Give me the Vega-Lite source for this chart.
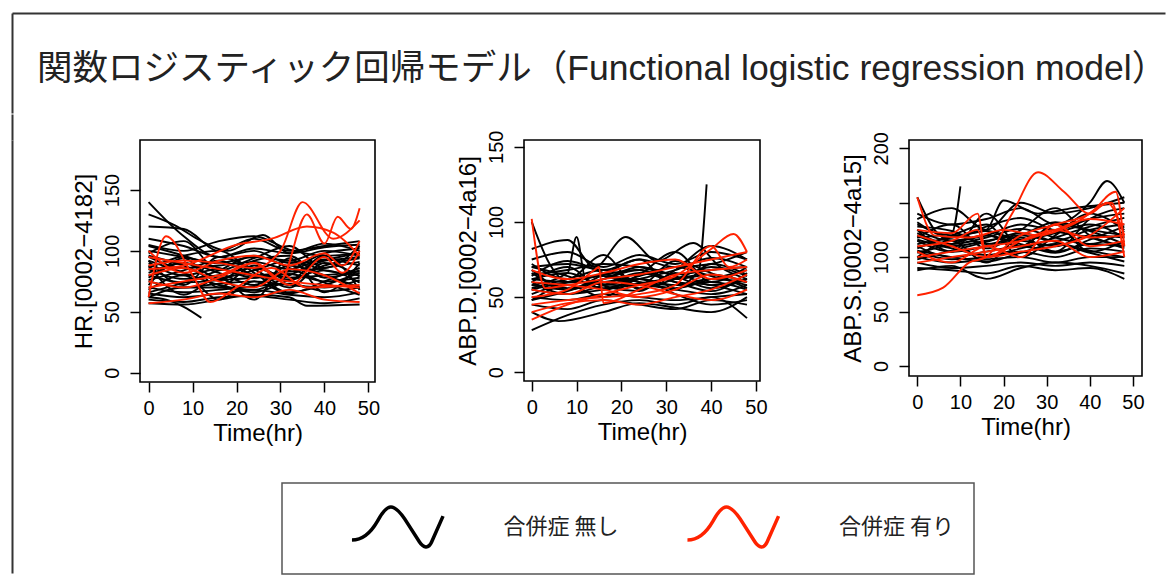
{
"$schema":"https://vega.github.io/schema/vega-lite/v6.json",
"padding":{"left":11,"top":13,"right":0,"bottom":0},
"background":"white",
"config":{
"font":"Liberation Sans",
"view":{"stroke":"#000","strokeWidth":1.6},
"axis":{"domain":false,"grid":false,"tickColor":"#000","tickWidth":1.5,"tickSize":10,"labelColor":"#000","labelFont":"Liberation Sans","labelFontSize":20,"labelFlush":false,"labelOverlap":false,"titleFont":"Liberation Sans","titleFontSize":24,"titleFontWeight":"normal","titleColor":"#000"},
"axisX":{"labelPadding":6,"titlePadding":3},
"axisY":{"labelAngle":-90,"labelAlign":"center","labelBaseline":"bottom","labelPadding":8,"titlePadding":6},
"line":{"interpolate":"monotone"},
"legend":{"orient":"none","legendX":270,"legendY":470,"direction":"horizontal","symbolType":"M-2.07,0.59C-1.64,0.59 -1.27,0.36 -0.91,-0.27C-0.64,-0.77 -0.45,-0.91 -0.3,-0.91C-0.09,-0.91 0.14,-0.68 0.45,-0.18L1,0.68C1.18,0.95 1.41,1 1.55,0.68L2.07,-0.5","symbolSize":1936,"symbolStrokeWidth":3.5,"symbolOffset":71.5,"symbolFillColor":"transparent","labelFont":"Noto Sans CJK JP","labelFontSize":22,"labelColor":"#222","labelOffset":82,"labelLimit":0,"columnPadding":18.5,"padding":20,"strokeColor":"#555","strokeWidth":1.5}
},
"datasets":{
"hN":[
{"c":1,"t":0,"v":140},{"c":1,"t":8,"v":112},{"c":1,"t":16,"v":95},{"c":1,"t":24,"v":100},{"c":1,"t":32,"v":90},{"c":1,"t":40,"v":92},{"c":1,"t":48,"v":95},
{"c":2,"t":0,"v":130},{"c":2,"t":6,"v":121},{"c":2,"t":12,"v":108},{"c":2,"t":18,"v":100},{"c":2,"t":26,"v":113},{"c":2,"t":32,"v":98},{"c":2,"t":40,"v":103},{"c":2,"t":48,"v":105},
{"c":3,"t":0,"v":120},{"c":3,"t":8,"v":118},{"c":3,"t":16,"v":100},{"c":3,"t":24,"v":110},{"c":3,"t":32,"v":100},{"c":3,"t":40,"v":104},{"c":3,"t":48,"v":108},
{"c":4,"t":0,"v":110},{"c":4,"t":8,"v":104},{"c":4,"t":16,"v":95},{"c":4,"t":24,"v":102},{"c":4,"t":32,"v":98},{"c":4,"t":40,"v":106},{"c":4,"t":48,"v":100},
{"c":5,"t":0,"v":100},{"c":5,"t":8,"v":95},{"c":5,"t":16,"v":90},{"c":5,"t":24,"v":95},{"c":5,"t":32,"v":92},{"c":5,"t":40,"v":100},{"c":5,"t":48,"v":96},
{"c":6,"t":0,"v":95},{"c":6,"t":8,"v":86},{"c":6,"t":16,"v":88},{"c":6,"t":24,"v":91},{"c":6,"t":32,"v":85},{"c":6,"t":40,"v":93},{"c":6,"t":48,"v":88},
{"c":7,"t":0,"v":90},{"c":7,"t":8,"v":80},{"c":7,"t":16,"v":85},{"c":7,"t":24,"v":80},{"c":7,"t":32,"v":83},{"c":7,"t":40,"v":86},{"c":7,"t":48,"v":91},
{"c":8,"t":0,"v":85},{"c":8,"t":8,"v":77},{"c":8,"t":16,"v":80},{"c":8,"t":24,"v":86},{"c":8,"t":32,"v":78},{"c":8,"t":40,"v":80},{"c":8,"t":48,"v":83},
{"c":9,"t":0,"v":80},{"c":9,"t":8,"v":74},{"c":9,"t":16,"v":76},{"c":9,"t":24,"v":78},{"c":9,"t":32,"v":81},{"c":9,"t":40,"v":75},{"c":9,"t":48,"v":78},
{"c":10,"t":0,"v":75},{"c":10,"t":8,"v":70},{"c":10,"t":16,"v":73},{"c":10,"t":24,"v":75},{"c":10,"t":32,"v":72},{"c":10,"t":40,"v":70},{"c":10,"t":48,"v":76},
{"c":11,"t":0,"v":70},{"c":11,"t":8,"v":66},{"c":11,"t":16,"v":68},{"c":11,"t":24,"v":71},{"c":11,"t":32,"v":73},{"c":11,"t":40,"v":67},{"c":11,"t":48,"v":70},
{"c":12,"t":0,"v":65},{"c":12,"t":8,"v":62},{"c":12,"t":16,"v":65},{"c":12,"t":24,"v":68},{"c":12,"t":32,"v":64},{"c":12,"t":40,"v":62},{"c":12,"t":48,"v":66},
{"c":13,"t":0,"v":60},{"c":13,"t":8,"v":58},{"c":13,"t":16,"v":62},{"c":13,"t":24,"v":63},{"c":13,"t":32,"v":60},{"c":13,"t":40,"v":57},{"c":13,"t":48,"v":61},
{"c":14,"t":0,"v":57},{"c":14,"t":8,"v":56},{"c":14,"t":16,"v":60},{"c":14,"t":24,"v":64},{"c":14,"t":32,"v":62},{"c":14,"t":36,"v":55},{"c":14,"t":48,"v":56},
{"c":15,"t":0,"v":105},{"c":15,"t":8,"v":100},{"c":15,"t":16,"v":108},{"c":15,"t":24,"v":112},{"c":15,"t":32,"v":101},{"c":15,"t":40,"v":96},{"c":15,"t":48,"v":98},
{"c":16,"t":0,"v":78},{"c":16,"t":8,"v":90},{"c":16,"t":16,"v":82},{"c":16,"t":24,"v":72},{"c":16,"t":32,"v":88},{"c":16,"t":40,"v":80},{"c":16,"t":48,"v":70},
{"c":17,"t":0,"v":68},{"c":17,"t":8,"v":80},{"c":17,"t":16,"v":60},{"c":17,"t":24,"v":75},{"c":17,"t":32,"v":65},{"c":17,"t":40,"v":75},{"c":17,"t":48,"v":86},
{"c":18,"t":0,"v":92},{"c":18,"t":8,"v":72},{"c":18,"t":16,"v":95},{"c":18,"t":24,"v":85},{"c":18,"t":32,"v":70},{"c":18,"t":40,"v":90},{"c":18,"t":48,"v":79},
{"c":19,"t":0,"v":62},{"c":19,"t":4,"v":60},{"c":19,"t":8,"v":54},{"c":19,"t":12,"v":45},
{"c":20,"t":0,"v":98},{"c":20,"t":8,"v":108},{"c":20,"t":16,"v":84},{"c":20,"t":24,"v":94},{"c":20,"t":32,"v":104},{"c":20,"t":40,"v":86},{"c":20,"t":48,"v":104},
{"c":21,"t":0,"v":72},{"c":21,"t":8,"v":94},{"c":21,"t":16,"v":70},{"c":21,"t":24,"v":88},{"c":21,"t":32,"v":76},{"c":21,"t":40,"v":96},{"c":21,"t":48,"v":68},
{"c":22,"t":0,"v":88},{"c":22,"t":8,"v":64},{"c":22,"t":16,"v":78},{"c":22,"t":24,"v":60},{"c":22,"t":32,"v":94},{"c":22,"t":40,"v":66},{"c":22,"t":48,"v":90},
{"c":23,"t":0,"v":82},{"c":23,"t":8,"v":90},{"c":23,"t":16,"v":78},{"c":23,"t":24,"v":84},{"c":23,"t":32,"v":92},{"c":23,"t":40,"v":84},{"c":23,"t":48,"v":80},
{"c":24,"t":0,"v":76},{"c":24,"t":8,"v":84},{"c":24,"t":16,"v":92},{"c":24,"t":24,"v":80},{"c":24,"t":32,"v":76},{"c":24,"t":40,"v":88},{"c":24,"t":48,"v":94},
{"c":25,"t":0,"v":96},{"c":25,"t":8,"v":88},{"c":25,"t":16,"v":76},{"c":25,"t":24,"v":92},{"c":25,"t":32,"v":96},{"c":25,"t":40,"v":78},{"c":25,"t":48,"v":84},
{"c":26,"t":0,"v":66},{"c":26,"t":8,"v":74},{"c":26,"t":16,"v":84},{"c":26,"t":24,"v":96},{"c":26,"t":32,"v":86},{"c":26,"t":40,"v":74},{"c":26,"t":48,"v":64},
{"c":27,"t":0,"v":86},{"c":27,"t":8,"v":96},{"c":27,"t":16,"v":100},{"c":27,"t":24,"v":82},{"c":27,"t":32,"v":66},{"c":27,"t":40,"v":72},{"c":27,"t":48,"v":82},
{"c":28,"t":0,"v":104},{"c":28,"t":8,"v":96},{"c":28,"t":16,"v":86},{"c":28,"t":24,"v":78},{"c":28,"t":32,"v":84},{"c":28,"t":40,"v":98},{"c":28,"t":48,"v":102},
{"c":29,"t":0,"v":62},{"c":29,"t":8,"v":70},{"c":29,"t":16,"v":70},{"c":29,"t":24,"v":66},{"c":29,"t":32,"v":76},{"c":29,"t":40,"v":84},{"c":29,"t":48,"v":74},
{"c":30,"t":0,"v":92},{"c":30,"t":8,"v":82},{"c":30,"t":16,"v":72},{"c":30,"t":24,"v":68},{"c":30,"t":32,"v":80},{"c":30,"t":40,"v":92},{"c":30,"t":48,"v":98}
],
"hY":[
{"c":1,"t":0,"v":62},{"c":1,"t":4,"v":112},{"c":1,"t":10,"v":80},{"c":1,"t":14,"v":58},{"c":1,"t":20,"v":70},{"c":1,"t":28,"v":86},{"c":1,"t":36,"v":70},{"c":1,"t":48,"v":72},
{"c":2,"t":0,"v":88},{"c":2,"t":8,"v":92},{"c":2,"t":16,"v":90},{"c":2,"t":24,"v":86},{"c":2,"t":30,"v":100},{"c":2,"t":35,"v":140},{"c":2,"t":42,"v":110},{"c":2,"t":48,"v":125},
{"c":3,"t":0,"v":85},{"c":3,"t":8,"v":88},{"c":3,"t":20,"v":105},{"c":3,"t":28,"v":110},{"c":3,"t":36,"v":120},{"c":3,"t":42,"v":115},{"c":3,"t":48,"v":96},
{"c":4,"t":0,"v":70},{"c":4,"t":8,"v":75},{"c":4,"t":16,"v":80},{"c":4,"t":24,"v":90},{"c":4,"t":30,"v":76},{"c":4,"t":36,"v":130},{"c":4,"t":40,"v":106},{"c":4,"t":43,"v":128},{"c":4,"t":46,"v":118},{"c":4,"t":48,"v":135},
{"c":5,"t":0,"v":95},{"c":5,"t":8,"v":90},{"c":5,"t":16,"v":85},{"c":5,"t":24,"v":80},{"c":5,"t":32,"v":75},{"c":5,"t":40,"v":72},{"c":5,"t":48,"v":70},
{"c":6,"t":0,"v":57},{"c":6,"t":8,"v":60},{"c":6,"t":16,"v":65},{"c":6,"t":24,"v":62},{"c":6,"t":32,"v":68},{"c":6,"t":40,"v":60},{"c":6,"t":48,"v":58},
{"c":7,"t":0,"v":75},{"c":7,"t":8,"v":70},{"c":7,"t":16,"v":78},{"c":7,"t":24,"v":90},{"c":7,"t":32,"v":72},{"c":7,"t":40,"v":95},{"c":7,"t":44,"v":82},{"c":7,"t":48,"v":100},
{"c":8,"t":0,"v":80},{"c":8,"t":8,"v":86},{"c":8,"t":16,"v":75},{"c":8,"t":24,"v":70},{"c":8,"t":32,"v":85},{"c":8,"t":40,"v":80},{"c":8,"t":48,"v":65},
{"c":9,"t":0,"v":100},{"c":9,"t":8,"v":82},{"c":9,"t":16,"v":92},{"c":9,"t":24,"v":96},{"c":9,"t":32,"v":88},{"c":9,"t":40,"v":98},{"c":9,"t":44,"v":88},{"c":9,"t":48,"v":108}
],
"dN":[
{"c":1,"t":0,"v":100},{"c":1,"t":4,"v":72},{"c":1,"t":8,"v":60},{"c":1,"t":16,"v":65},{"c":1,"t":24,"v":60},{"c":1,"t":32,"v":58},{"c":1,"t":40,"v":62},{"c":1,"t":48,"v":60},
{"c":2,"t":0,"v":82},{"c":2,"t":8,"v":88},{"c":2,"t":14,"v":70},{"c":2,"t":21,"v":90},{"c":2,"t":28,"v":74},{"c":2,"t":36,"v":86},{"c":2,"t":42,"v":70},{"c":2,"t":48,"v":62},
{"c":3,"t":0,"v":75},{"c":3,"t":8,"v":80},{"c":3,"t":16,"v":70},{"c":3,"t":24,"v":78},{"c":3,"t":32,"v":72},{"c":3,"t":40,"v":80},{"c":3,"t":48,"v":75},
{"c":4,"t":0,"v":70},{"c":4,"t":8,"v":72},{"c":4,"t":16,"v":68},{"c":4,"t":24,"v":75},{"c":4,"t":32,"v":70},{"c":4,"t":40,"v":72},{"c":4,"t":48,"v":80},
{"c":5,"t":0,"v":65},{"c":5,"t":8,"v":68},{"c":5,"t":16,"v":72},{"c":5,"t":24,"v":70},{"c":5,"t":32,"v":65},{"c":5,"t":40,"v":68},{"c":5,"t":48,"v":70},
{"c":6,"t":0,"v":62},{"c":6,"t":8,"v":60},{"c":6,"t":16,"v":65},{"c":6,"t":24,"v":68},{"c":6,"t":32,"v":62},{"c":6,"t":40,"v":65},{"c":6,"t":48,"v":60},
{"c":7,"t":0,"v":58},{"c":7,"t":8,"v":55},{"c":7,"t":16,"v":60},{"c":7,"t":24,"v":62},{"c":7,"t":32,"v":58},{"c":7,"t":40,"v":60},{"c":7,"t":48,"v":55},
{"c":8,"t":0,"v":55},{"c":8,"t":8,"v":52},{"c":8,"t":16,"v":55},{"c":8,"t":24,"v":58},{"c":8,"t":32,"v":55},{"c":8,"t":40,"v":52},{"c":8,"t":48,"v":58},
{"c":9,"t":0,"v":50},{"c":9,"t":8,"v":48},{"c":9,"t":16,"v":52},{"c":9,"t":24,"v":50},{"c":9,"t":32,"v":48},{"c":9,"t":40,"v":50},{"c":9,"t":48,"v":52},
{"c":10,"t":0,"v":45},{"c":10,"t":8,"v":42},{"c":10,"t":16,"v":48},{"c":10,"t":24,"v":45},{"c":10,"t":32,"v":42},{"c":10,"t":40,"v":48},{"c":10,"t":48,"v":45},
{"c":11,"t":0,"v":40},{"c":11,"t":6,"v":34},{"c":11,"t":16,"v":40},{"c":11,"t":24,"v":46},{"c":11,"t":32,"v":43},{"c":11,"t":40,"v":40},{"c":11,"t":48,"v":50},
{"c":12,"t":0,"v":28},{"c":12,"t":8,"v":38},{"c":12,"t":16,"v":45},{"c":12,"t":24,"v":48},{"c":12,"t":32,"v":45},{"c":12,"t":40,"v":50},{"c":12,"t":48,"v":36},
{"c":13,"t":0,"v":60},{"c":13,"t":8,"v":70},{"c":13,"t":16,"v":55},{"c":13,"t":24,"v":65},{"c":13,"t":32,"v":80},{"c":13,"t":40,"v":60},{"c":13,"t":48,"v":70},
{"c":14,"t":0,"v":72},{"c":14,"t":8,"v":62},{"c":14,"t":16,"v":78},{"c":14,"t":24,"v":55},{"c":14,"t":32,"v":68},{"c":14,"t":40,"v":84},{"c":14,"t":48,"v":75},
{"c":15,"t":0,"v":55},{"c":15,"t":10,"v":60},{"c":15,"t":20,"v":58},{"c":15,"t":30,"v":62},{"c":15,"t":37,"v":65},{"c":15,"t":39,"v":125},
{"c":16,"t":0,"v":68},{"c":16,"t":8,"v":55},{"c":16,"t":16,"v":65},{"c":16,"t":24,"v":75},{"c":16,"t":32,"v":55},{"c":16,"t":40,"v":72},{"c":16,"t":48,"v":65},
{"c":17,"t":0,"v":48},{"c":17,"t":8,"v":58},{"c":17,"t":16,"v":50},{"c":17,"t":24,"v":62},{"c":17,"t":32,"v":52},{"c":17,"t":40,"v":45},{"c":17,"t":48,"v":48},
{"c":18,"t":0,"v":58},{"c":18,"t":8,"v":66},{"c":18,"t":10,"v":90},{"c":18,"t":12,"v":62},{"c":18,"t":24,"v":54},{"c":18,"t":32,"v":66},{"c":18,"t":40,"v":58},{"c":18,"t":48,"v":62},
{"c":19,"t":0,"v":62},{"c":19,"t":8,"v":66},{"c":19,"t":16,"v":58},{"c":19,"t":24,"v":64},{"c":19,"t":32,"v":70},{"c":19,"t":40,"v":64},{"c":19,"t":48,"v":58},
{"c":20,"t":0,"v":56},{"c":20,"t":8,"v":62},{"c":20,"t":16,"v":68},{"c":20,"t":24,"v":60},{"c":20,"t":32,"v":56},{"c":20,"t":40,"v":62},{"c":20,"t":48,"v":68},
{"c":21,"t":0,"v":66},{"c":21,"t":8,"v":56},{"c":21,"t":16,"v":62},{"c":21,"t":24,"v":70},{"c":21,"t":32,"v":64},{"c":21,"t":40,"v":56},{"c":21,"t":48,"v":62},
{"c":22,"t":0,"v":52},{"c":22,"t":8,"v":60},{"c":22,"t":16,"v":64},{"c":22,"t":24,"v":56},{"c":22,"t":32,"v":62},{"c":22,"t":40,"v":70},{"c":22,"t":48,"v":64},
{"c":23,"t":0,"v":70},{"c":23,"t":8,"v":64},{"c":23,"t":16,"v":56},{"c":23,"t":24,"v":62},{"c":23,"t":32,"v":68},{"c":23,"t":40,"v":76},{"c":23,"t":48,"v":70},
{"c":24,"t":0,"v":60},{"c":24,"t":8,"v":52},{"c":24,"t":16,"v":58},{"c":24,"t":24,"v":66},{"c":24,"t":32,"v":60},{"c":24,"t":40,"v":54},{"c":24,"t":48,"v":66},
{"c":25,"t":0,"v":64},{"c":25,"t":8,"v":74},{"c":25,"t":16,"v":66},{"c":25,"t":24,"v":58},{"c":25,"t":32,"v":74},{"c":25,"t":40,"v":66},{"c":25,"t":48,"v":56},
{"c":26,"t":0,"v":48},{"c":26,"t":8,"v":54},{"c":26,"t":16,"v":62},{"c":26,"t":24,"v":68},{"c":26,"t":32,"v":60},{"c":26,"t":40,"v":58},{"c":26,"t":48,"v":52}
],
"dY":[
{"c":1,"t":0,"v":102},{"c":1,"t":3,"v":56},{"c":1,"t":8,"v":58},{"c":1,"t":16,"v":62},{"c":1,"t":24,"v":65},{"c":1,"t":32,"v":70},{"c":1,"t":40,"v":75},{"c":1,"t":48,"v":80},
{"c":2,"t":0,"v":35},{"c":2,"t":8,"v":45},{"c":2,"t":16,"v":52},{"c":2,"t":24,"v":58},{"c":2,"t":32,"v":64},{"c":2,"t":40,"v":82},{"c":2,"t":45,"v":92},{"c":2,"t":48,"v":80},
{"c":3,"t":0,"v":50},{"c":3,"t":8,"v":55},{"c":3,"t":14,"v":68},{"c":3,"t":15,"v":70},{"c":3,"t":16,"v":46},{"c":3,"t":24,"v":55},{"c":3,"t":32,"v":65},{"c":3,"t":40,"v":68},{"c":3,"t":48,"v":70},
{"c":4,"t":0,"v":45},{"c":4,"t":8,"v":48},{"c":4,"t":16,"v":50},{"c":4,"t":24,"v":52},{"c":4,"t":32,"v":58},{"c":4,"t":40,"v":84},{"c":4,"t":44,"v":70},{"c":4,"t":48,"v":75},
{"c":5,"t":0,"v":60},{"c":5,"t":8,"v":58},{"c":5,"t":16,"v":55},{"c":5,"t":24,"v":50},{"c":5,"t":32,"v":55},{"c":5,"t":40,"v":65},{"c":5,"t":48,"v":60},
{"c":6,"t":0,"v":40},{"c":6,"t":8,"v":46},{"c":6,"t":16,"v":48},{"c":6,"t":24,"v":45},{"c":6,"t":32,"v":50},{"c":6,"t":40,"v":55},{"c":6,"t":48,"v":65},
{"c":7,"t":0,"v":55},{"c":7,"t":8,"v":52},{"c":7,"t":16,"v":60},{"c":7,"t":24,"v":58},{"c":7,"t":32,"v":52},{"c":7,"t":40,"v":48},{"c":7,"t":48,"v":55},
{"c":8,"t":0,"v":68},{"c":8,"t":8,"v":62},{"c":8,"t":16,"v":66},{"c":8,"t":24,"v":72},{"c":8,"t":32,"v":75},{"c":8,"t":40,"v":62},{"c":8,"t":48,"v":68}
],
"sN":[
{"c":1,"t":0,"v":155},{"c":1,"t":4,"v":125},{"c":1,"t":8,"v":115},{"c":1,"t":16,"v":120},{"c":1,"t":24,"v":110},{"c":1,"t":32,"v":130},{"c":1,"t":40,"v":125},{"c":1,"t":48,"v":120},
{"c":2,"t":0,"v":140},{"c":2,"t":8,"v":130},{"c":2,"t":16,"v":135},{"c":2,"t":24,"v":145},{"c":2,"t":32,"v":130},{"c":2,"t":40,"v":150},{"c":2,"t":44,"v":170},{"c":2,"t":48,"v":150},
{"c":3,"t":0,"v":130},{"c":3,"t":8,"v":120},{"c":3,"t":16,"v":125},{"c":3,"t":20,"v":152},{"c":3,"t":28,"v":140},{"c":3,"t":36,"v":145},{"c":3,"t":48,"v":150},
{"c":4,"t":0,"v":125},{"c":4,"t":8,"v":115},{"c":4,"t":16,"v":120},{"c":4,"t":24,"v":130},{"c":4,"t":32,"v":125},{"c":4,"t":40,"v":135},{"c":4,"t":48,"v":140},
{"c":5,"t":0,"v":120},{"c":5,"t":8,"v":110},{"c":5,"t":16,"v":115},{"c":5,"t":24,"v":120},{"c":5,"t":32,"v":115},{"c":5,"t":40,"v":125},{"c":5,"t":48,"v":130},
{"c":6,"t":0,"v":115},{"c":6,"t":8,"v":105},{"c":6,"t":16,"v":110},{"c":6,"t":24,"v":115},{"c":6,"t":32,"v":110},{"c":6,"t":40,"v":120},{"c":6,"t":48,"v":118},
{"c":7,"t":0,"v":110},{"c":7,"t":8,"v":100},{"c":7,"t":16,"v":105},{"c":7,"t":24,"v":110},{"c":7,"t":32,"v":105},{"c":7,"t":40,"v":112},{"c":7,"t":48,"v":110},
{"c":8,"t":0,"v":105},{"c":8,"t":8,"v":98},{"c":8,"t":16,"v":100},{"c":8,"t":24,"v":105},{"c":8,"t":32,"v":100},{"c":8,"t":40,"v":108},{"c":8,"t":48,"v":105},
{"c":9,"t":0,"v":100},{"c":9,"t":8,"v":95},{"c":9,"t":16,"v":98},{"c":9,"t":24,"v":100},{"c":9,"t":32,"v":95},{"c":9,"t":40,"v":100},{"c":9,"t":48,"v":100},
{"c":10,"t":0,"v":95},{"c":10,"t":8,"v":90},{"c":10,"t":16,"v":92},{"c":10,"t":24,"v":95},{"c":10,"t":32,"v":92},{"c":10,"t":40,"v":95},{"c":10,"t":48,"v":92},
{"c":11,"t":0,"v":90},{"c":11,"t":8,"v":88},{"c":11,"t":16,"v":85},{"c":11,"t":24,"v":92},{"c":11,"t":32,"v":88},{"c":11,"t":40,"v":90},{"c":11,"t":48,"v":80},
{"c":12,"t":0,"v":88},{"c":12,"t":8,"v":92},{"c":12,"t":14,"v":82},{"c":12,"t":16,"v":80},{"c":12,"t":24,"v":90},{"c":12,"t":32,"v":95},{"c":12,"t":40,"v":92},{"c":12,"t":48,"v":85},
{"c":13,"t":0,"v":118},{"c":13,"t":8,"v":122},{"c":13,"t":10,"v":165},
{"c":14,"t":0,"v":135},{"c":14,"t":8,"v":145},{"c":14,"t":16,"v":125},{"c":14,"t":24,"v":150},{"c":14,"t":32,"v":140},{"c":14,"t":40,"v":145},{"c":14,"t":48,"v":155},
{"c":15,"t":0,"v":118},{"c":15,"t":8,"v":130},{"c":15,"t":16,"v":108},{"c":15,"t":24,"v":125},{"c":15,"t":32,"v":145},{"c":15,"t":40,"v":120},{"c":15,"t":48,"v":110},
{"c":16,"t":0,"v":100},{"c":16,"t":8,"v":115},{"c":16,"t":16,"v":95},{"c":16,"t":24,"v":118},{"c":16,"t":32,"v":105},{"c":16,"t":40,"v":135},{"c":16,"t":48,"v":145},
{"c":17,"t":0,"v":125},{"c":17,"t":8,"v":105},{"c":17,"t":16,"v":140},{"c":17,"t":24,"v":110},{"c":17,"t":32,"v":130},{"c":17,"t":40,"v":105},{"c":17,"t":48,"v":115},
{"c":18,"t":0,"v":108},{"c":18,"t":8,"v":120},{"c":18,"t":16,"v":130},{"c":18,"t":24,"v":100},{"c":18,"t":32,"v":120},{"c":18,"t":40,"v":140},{"c":18,"t":48,"v":125},
{"c":19,"t":0,"v":112},{"c":19,"t":8,"v":118},{"c":19,"t":16,"v":124},{"c":19,"t":24,"v":116},{"c":19,"t":32,"v":122},{"c":19,"t":40,"v":130},{"c":19,"t":48,"v":118},
{"c":20,"t":0,"v":122},{"c":20,"t":8,"v":112},{"c":20,"t":16,"v":118},{"c":20,"t":24,"v":126},{"c":20,"t":32,"v":118},{"c":20,"t":40,"v":112},{"c":20,"t":48,"v":124},
{"c":21,"t":0,"v":104},{"c":21,"t":8,"v":112},{"c":21,"t":16,"v":120},{"c":21,"t":24,"v":112},{"c":21,"t":32,"v":104},{"c":21,"t":40,"v":116},{"c":21,"t":48,"v":128},
{"c":22,"t":0,"v":128},{"c":22,"t":8,"v":124},{"c":22,"t":16,"v":112},{"c":22,"t":24,"v":120},{"c":22,"t":32,"v":132},{"c":22,"t":40,"v":124},{"c":22,"t":48,"v":112},
{"c":23,"t":0,"v":98},{"c":23,"t":8,"v":106},{"c":23,"t":16,"v":114},{"c":23,"t":24,"v":122},{"c":23,"t":32,"v":114},{"c":23,"t":40,"v":106},{"c":23,"t":48,"v":100},
{"c":24,"t":0,"v":116},{"c":24,"t":8,"v":108},{"c":24,"t":16,"v":102},{"c":24,"t":24,"v":108},{"c":24,"t":32,"v":118},{"c":24,"t":40,"v":128},{"c":24,"t":48,"v":136},
{"c":25,"t":0,"v":132},{"c":25,"t":8,"v":118},{"c":25,"t":16,"v":128},{"c":25,"t":24,"v":136},{"c":25,"t":32,"v":124},{"c":25,"t":40,"v":118},{"c":25,"t":48,"v":108},
{"c":26,"t":0,"v":106},{"c":26,"t":8,"v":100},{"c":26,"t":16,"v":96},{"c":26,"t":24,"v":104},{"c":26,"t":32,"v":112},{"c":26,"t":40,"v":104},{"c":26,"t":48,"v":96}
],
"sY":[
{"c":1,"t":0,"v":65},{"c":1,"t":6,"v":72},{"c":1,"t":12,"v":95},{"c":1,"t":16,"v":100},{"c":1,"t":22,"v":140},{"c":1,"t":28,"v":178},{"c":1,"t":34,"v":160},{"c":1,"t":40,"v":140},{"c":1,"t":44,"v":150},{"c":1,"t":48,"v":120},
{"c":2,"t":0,"v":155},{"c":2,"t":4,"v":120},{"c":2,"t":12,"v":118},{"c":2,"t":20,"v":125},{"c":2,"t":28,"v":120},{"c":2,"t":36,"v":130},{"c":2,"t":45,"v":150},{"c":2,"t":48,"v":100},
{"c":3,"t":0,"v":110},{"c":3,"t":8,"v":115},{"c":3,"t":14,"v":125},{"c":3,"t":16,"v":100},{"c":3,"t":24,"v":120},{"c":3,"t":32,"v":130},{"c":3,"t":40,"v":140},{"c":3,"t":46,"v":160},{"c":3,"t":48,"v":110},
{"c":4,"t":0,"v":100},{"c":4,"t":8,"v":105},{"c":4,"t":16,"v":110},{"c":4,"t":24,"v":115},{"c":4,"t":32,"v":125},{"c":4,"t":40,"v":135},{"c":4,"t":48,"v":130},
{"c":5,"t":0,"v":120},{"c":5,"t":8,"v":110},{"c":5,"t":16,"v":100},{"c":5,"t":24,"v":105},{"c":5,"t":32,"v":110},{"c":5,"t":40,"v":120},{"c":5,"t":48,"v":145},
{"c":6,"t":0,"v":95},{"c":6,"t":8,"v":100},{"c":6,"t":16,"v":105},{"c":6,"t":24,"v":110},{"c":6,"t":32,"v":115},{"c":6,"t":40,"v":100},{"c":6,"t":48,"v":105},
{"c":7,"t":0,"v":105},{"c":7,"t":8,"v":95},{"c":7,"t":16,"v":110},{"c":7,"t":24,"v":100},{"c":7,"t":32,"v":130},{"c":7,"t":40,"v":110},{"c":7,"t":48,"v":115},
{"c":8,"t":0,"v":125},{"c":8,"t":8,"v":122},{"c":8,"t":14,"v":140},{"c":8,"t":16,"v":100},{"c":8,"t":24,"v":115},{"c":8,"t":32,"v":125},{"c":8,"t":40,"v":118},{"c":8,"t":48,"v":120}
]
},
"spacing":0,
"vconcat":[
{"width":1153,"height":100,"data":{"values":[{"a":0.5}]},"mark":{"type":"point","opacity":0},"view":{"stroke":null},
"encoding":{
"x":{"field":"a","type":"quantitative","scale":{"domain":[0,1]},"axis":{"orient":"top","domain":true,"domainColor":"#333","domainWidth":2,"ticks":false,"labels":false,"title":null,"grid":false}},
"y":{"field":"a","type":"quantitative","scale":{"domain":[0,1]},"axis":{"orient":"left","domain":true,"domainColor":"#333","domainWidth":2,"ticks":false,"labels":false,"title":null,"grid":false}}},
"title":{"text":"関数ロジスティック回帰モデル（Functional logistic regression model）","anchor":"start","frame":"group","orient":"top","offset":-102,"dx":25,"fontSize":35.5,"fontWeight":"normal","font":"Liberation Sans, Noto Sans CJK JP","color":"#222","baseline":"alphabetic"}},
{"spacing":0,"hconcat":[
{"width":59,"height":433,"data":{"values":[{"a":0.5}]},"mark":{"type":"point","opacity":0},"view":{"stroke":null},
"encoding":{
"x":{"field":"a","type":"quantitative","scale":{"domain":[0,1]},"axis":{"orient":"top","domain":false,"ticks":true,"values":[0],"tickSize":26,"tickColor":"#333","tickWidth":2,"labelPadding":0,"labels":false,"title":null,"grid":false}},
"y":{"field":"a","type":"quantitative","scale":{"domain":[0,1]},"axis":{"orient":"left","domain":true,"domainColor":"#333","domainWidth":2,"ticks":false,"labels":false,"title":null,"grid":false}}}},
{"spacing":149,"bounds":"flush","hconcat":[
{"width":235,"height":242,
"encoding":{"x":{"field":"t","type":"quantitative","scale":{"domain":[-1.95,51.5],"nice":false,"zero":false},"axis":{"values":[0,10,20,30,40,50],"title":"Time(hr)"}},
"y":{"field":"v","type":"quantitative","scale":{"domain":[-7.6,191],"nice":false,"zero":false},"axis":{"values":[0,50,100,150],"title":"HR.[0002−4182]"}},
"detail":{"field":"c","type":"nominal"},"strokeWidth":{"value":1.9}},
"layer":[
{"data":{"name":"hN"},"mark":"line","encoding":{"color":{"datum":"合併症 無し","type":"nominal","scale":{"domain":["合併症 無し","合併症 有り"],"range":["#000000","#ff2200"]},"legend":{"title":null,"symbolStrokeWidth":3.5}}}},
{"data":{"name":"hY"},"mark":"line","encoding":{"color":{"datum":"合併症 有り","type":"nominal"}}}
]},
{"width":236,"height":241,
"encoding":{"x":{"field":"t","type":"quantitative","scale":{"domain":[-1.72,50.9],"nice":false,"zero":false},"axis":{"values":[0,10,20,30,40,50],"title":"Time(hr)"}},
"y":{"field":"v","type":"quantitative","scale":{"domain":[-5.8,154.5],"nice":false,"zero":false},"axis":{"values":[0,50,100,150],"title":"ABP.D.[0002−4a16]"}},
"detail":{"field":"c","type":"nominal"},"strokeWidth":{"value":1.9}},
"layer":[
{"data":{"name":"dN"},"mark":"line","encoding":{"color":{"datum":"合併症 無し","type":"nominal"}}},
{"data":{"name":"dY"},"mark":"line","encoding":{"color":{"datum":"合併症 有り","type":"nominal"}}}
]},
{"width":233,"height":236,
"encoding":{"x":{"field":"t","type":"quantitative","scale":{"domain":[-1.92,52.1],"nice":false,"zero":false},"axis":{"values":[0,10,20,30,40,50],"title":"Time(hr)"}},
"y":{"field":"v","type":"quantitative","scale":{"domain":[-9.2,207.6],"nice":false,"zero":false},"axis":{"values":[0,50,100,150,200],"labelExpr":"datum.value == 150 ? '' : datum.label","title":"ABP.S.[0002−4a15]"}},
"detail":{"field":"c","type":"nominal"},"strokeWidth":{"value":1.9}},
"layer":[
{"data":{"name":"sN"},"mark":"line","encoding":{"color":{"datum":"合併症 無し","type":"nominal"}}},
{"data":{"name":"sY"},"mark":"line","encoding":{"color":{"datum":"合併症 有り","type":"nominal"}}}
]}
]}
]}
]
}
